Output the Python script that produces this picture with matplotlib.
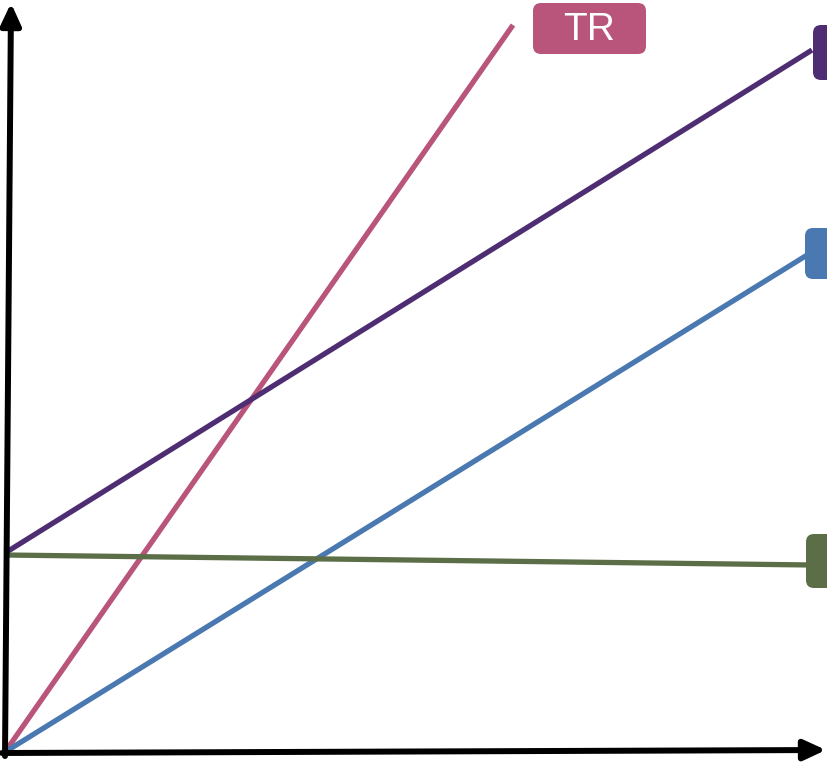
import matplotlib
matplotlib.use('Agg')
import matplotlib.pyplot as plt
from matplotlib.patches import FancyBboxPatch, FancyArrowPatch

# curve endpoints (canvas units, y grows downward)
names = ['TR', 'TC', 'TVC', 'TFC']
x0 = [5, 5, 5, 5]
y0 = [752, 553, 752, 555]
x1 = [513, 812, 812, 812]
y1 = [25, 50, 252, 565]
colors = ['#b9557a', '#4f2d72', '#4a78b0', '#5b6e47']

# label boxes: left, top, right, bottom
box_l = [533, 813, 805, 806]
box_t = [3, 25, 228, 534]
box_r = [646, 860, 860, 860]
box_b = [54, 80, 279, 588]
box_txt = ['TR', '', '', '']

fig = plt.figure(figsize=(8.27, 7.64), dpi=100)
ax = fig.add_axes([0, 0, 1, 1])
ax.set_xlim(0, 827)
ax.set_ylim(764, 0)
ax.axis('off')

for i in range(len(names)):
    ax.plot([x0[i], x1[i]], [y0[i], y1[i]], color=colors[i], lw=3.8,
            solid_capstyle='butt', zorder=2)

for i in range(len(names)):
    w = box_r[i] - box_l[i]
    h = box_b[i] - box_t[i]
    ax.add_patch(FancyBboxPatch((box_l[i] + 8, box_t[i] + 8), w - 16, h - 16,
                                boxstyle='round,pad=8', fc=colors[i], ec='none',
                                zorder=3, clip_on=True))
    if box_txt[i]:
        ax.text((box_l[i] + box_r[i]) / 2, (box_t[i] + box_b[i]) / 2 + 1, box_txt[i],
                color='white', fontsize=28, ha='center', va='center',
                family='Liberation Sans', zorder=4)

# axes with arrow heads
style = '-|>,head_length=1.3,head_width=0.6'
ax.add_patch(FancyArrowPatch((5, 756), (11, 3), arrowstyle=style, mutation_scale=10,
                             color='black', lw=4.3, shrinkA=0, shrinkB=0, zorder=5))
ax.add_patch(FancyArrowPatch((2, 753), (826, 750), arrowstyle=style, mutation_scale=10,
                             color='black', lw=4.3, shrinkA=0, shrinkB=0, zorder=5))

fig.savefig('out.png', dpi=100)
